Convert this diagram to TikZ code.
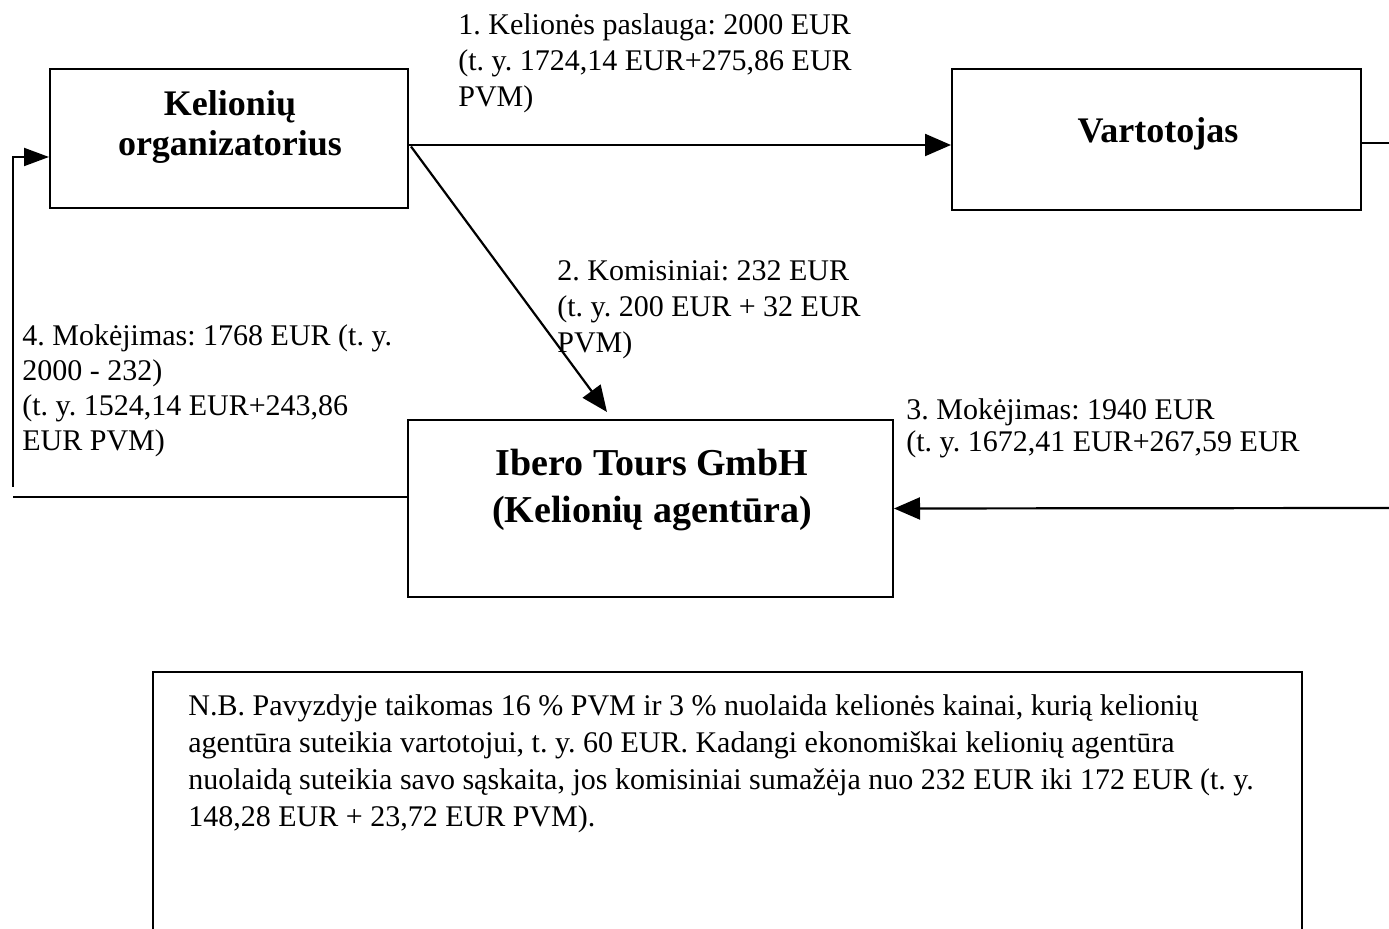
\documentclass[tikz,border=0pt]{standalone}
\usepackage{fontspec}
\setmainfont{Liberation Serif}
\usetikzlibrary{arrows.meta,calc}
\frenchspacing
\begin{document}
\begin{tikzpicture}[x=0.5pt,y=-0.5pt,
  box/.style={draw, line width=1pt, inner sep=0pt},
  boxtext/.style={inner sep=0pt, align=center, font=\fontsize{18}{20}\selectfont\bfseries},
  bigtext/.style={inner sep=0pt, align=center, font=\fontsize{19}{23.5}\selectfont\bfseries},
  lbl/.style={anchor=north west, inner sep=0pt, align=left, font=\fontsize{15}{18}\selectfont},
  conn/.style={line width=1.1pt, -{Triangle[length=13pt,width=11pt]}},
  plain/.style={line width=1pt}]
\useasboundingbox (0,0) rectangle (1389,929);

% boxes
\node[box, minimum width=179pt, minimum height=69.5pt] (org) at (229,138.5) {};
\node[boxtext] (orgtxt) at (230,127) {Kelionių\\organizatorius};
\node[box, minimum width=204.5pt, minimum height=70.5pt] (vart) at (1156.5,139.5) {};
\node[boxtext] (varttxt) at (1158,134) {Vartotojas};
\node[box, minimum width=242.5pt, minimum height=88.5pt] (ibero) at (650.5,508.5) {};
\node[bigtext] (iberotxt) at (652,490) {Ibero Tours GmbH\\(Kelionių agentūra)};

% note box (open at the bottom edge of the picture)
\begin{scope}
  \clip (0,0) rectangle (1389,929);
  \node[box, minimum width=574.5pt, minimum height=144pt] (nb) at (727.5,816) {};
\end{scope}
\node[lbl, font=\fontsize{15}{18.5}\selectfont] (nbtxt) at (188,694) {N.B. Pavyzdyje taikomas 16 \% PVM ir 3 \% nuolaida kelionės kainai, kurią kelionių\\agentūra suteikia vartotojui, t. y. 60 EUR. Kadangi ekonomiškai kelionių agentūra\\nuolaidą suteikia savo sąskaita, jos komisiniai sumažėja nuo 232 EUR iki 172 EUR (t. y.\\148,28 EUR + 23,72 EUR PVM).};

% free ends
\coordinate (vr) at (1389,143);
\coordinate (r3) at (1389,508);
\coordinate (l4a) at (13,497);
\coordinate (l4b) at (13,487);

% connectors
\draw[conn] ($(org.east)+(0,6.5)$) -- ($(vart.west)+(0,5.5)$);
\draw[conn] ($(org.east)+(2,8)$) -- ($(ibero.north)+(-43.5,-7)$);
\draw[plain] ($(vart.east)+(0,3.5)$) -- (vr);
\draw[conn] (r3) -- (ibero.east);
\draw[plain] ($(ibero.west)+(0,-11.5)$) -- (l4a);
\draw[line width=1pt, -{Triangle[length=12.5pt,width=9pt]}] (l4b) |- ($(org.west)+(0,18.5)$);

% labels
\node[lbl] (lab1) at (458,13) {1. Kelionės paslauga: 2000 EUR\\(t. y. 1724,14 EUR+275,86 EUR\\PVM)};
\node[lbl] (lab2) at (557,260) {2. Komisiniai: 232 EUR\\(t. y. 200 EUR + 32 EUR\\PVM)};
\node[lbl, font=\fontsize{15}{16}\selectfont] (lab3) at (906,398) {3. Mokėjimas: 1940 EUR\\(t. y. 1672,41 EUR+267,59 EUR};
\node[lbl, font=\fontsize{15}{17.5}\selectfont] (lab4) at (22,324) {4. Mokėjimas: 1768 EUR (t. y.\\2000 - 232)\\(t. y. 1524,14 EUR+243,86\\EUR PVM)};
\end{tikzpicture}
\end{document}
